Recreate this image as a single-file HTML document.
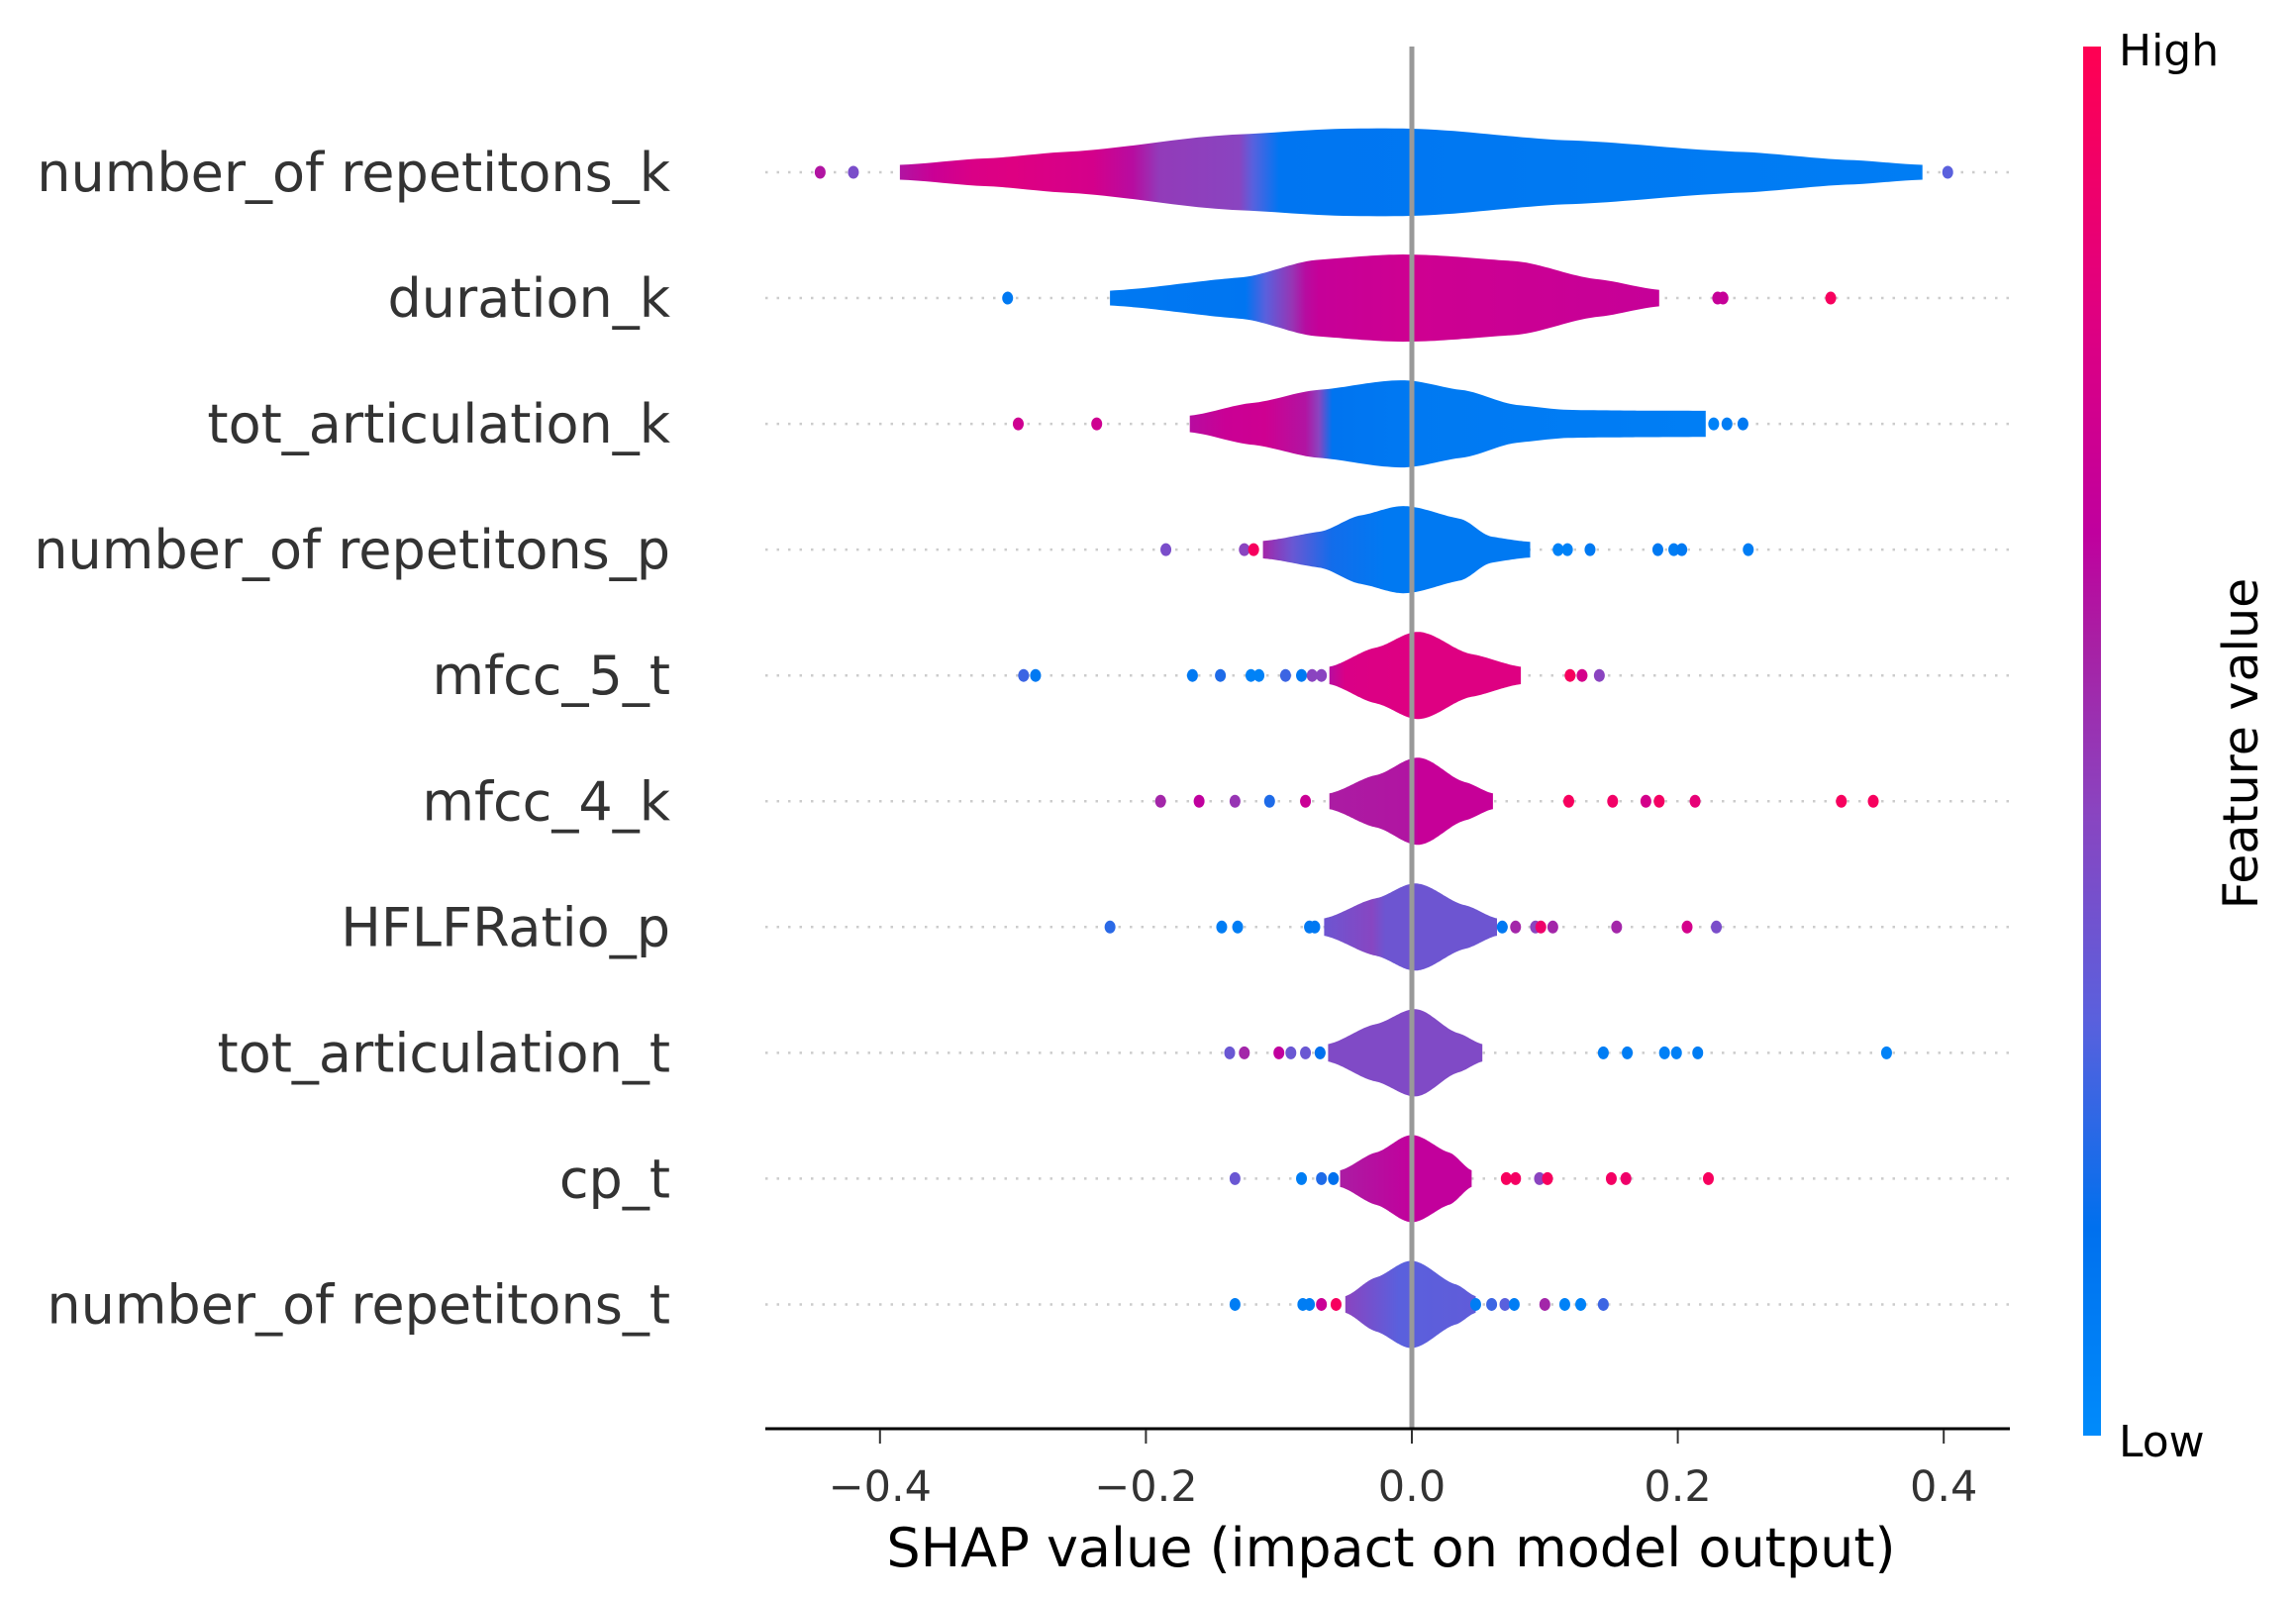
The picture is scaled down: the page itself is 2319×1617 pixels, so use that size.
<!DOCTYPE html>
<html><head><meta charset="utf-8"><style>
html,body{margin:0;padding:0;background:#fff}
svg{display:block}
text{font-family:"DejaVu Sans","Liberation Sans",sans-serif}
</style></head><body>
<svg id="chart" width="2319" height="1617" viewBox="0 0 2319 1617" xmlns="http://www.w3.org/2000/svg">
<defs>
<linearGradient id="cbar" x1="0" y1="1" x2="0" y2="0">
<stop offset="0" stop-color="#008bfb"/><stop offset="0.15" stop-color="#0070ee"/><stop offset="0.3" stop-color="#5a60dd"/><stop offset="0.45" stop-color="#8a44c0"/><stop offset="0.57" stop-color="#a820a4"/><stop offset="0.65" stop-color="#c0009e"/><stop offset="0.82" stop-color="#e2007e"/><stop offset="1" stop-color="#ff0052"/>
</linearGradient>
</defs>
<g id="grid"></g><g id="violins"></g><g id="dots"></g><g id="labels"></g><g id="axis"></g>
<rect x="2104" y="47" width="18" height="1403" fill="url(#cbar)"/>
<text x="2140" y="66" font-size="44" fill="#000">High</text>
<text x="2140" y="1471" font-size="44" fill="#000">Low</text>
<text x="0" y="0" font-size="49" fill="#000" text-anchor="middle" transform="translate(2280,751) rotate(-90)">Feature value</text>
<text x="1405" y="1582" font-size="54" fill="#000" text-anchor="middle">SHAP value (impact on model output)</text>
</svg>
<script>
const features = ["number_of repetitons_k","duration_k","tot_articulation_k","number_of repetitons_p","mfcc_5_t","mfcc_4_k","HFLFRatio_p","tot_articulation_t","cp_t","number_of repetitons_t"];
const xTicks = [-0.4,-0.2,0.0,0.2,0.4];
const xTickLabels = ["\u22120.4","\u22120.2","0.0","0.2","0.4"];
const violinX = [
 [-0.385,-0.32,-0.26,-0.13,-0.05,0.0,0.12,0.246,0.33,0.384],
 [-0.227,-0.13,-0.07,-0.005,0.076,0.14,0.186],
 [-0.167,-0.12,-0.07,-0.007,0.037,0.08,0.12,0.221],
 [-0.112,-0.07,-0.038,-0.006,0.036,0.06,0.089],
 [-0.062,-0.027,0.005,0.045,0.082],
 [-0.062,-0.027,0.005,0.04,0.061],
 [-0.066,-0.027,0.003,0.04,0.064],
 [-0.063,-0.027,0.003,0.035,0.053],
 [-0.054,-0.027,0.0,0.028,0.045],
 [-0.05,-0.027,0.0,0.033,0.048]
];
const violinW = [
 [0.17,0.32,0.47,0.87,1.0,1.0,0.73,0.47,0.28,0.17],
 [0.17,0.47,0.88,1.0,0.85,0.43,0.19],
 [0.19,0.48,0.78,1.0,0.78,0.43,0.32,0.3],
 [0.2,0.41,0.79,1.0,0.71,0.3,0.18],
 [0.2,0.64,1.0,0.49,0.2],
 [0.18,0.6,1.0,0.44,0.18],
 [0.2,0.66,1.0,0.5,0.2],
 [0.2,0.66,1.0,0.45,0.2],
 [0.19,0.6,1.0,0.6,0.19],
 [0.19,0.62,1.0,0.46,0.19]
];
const colorX = [
 [-0.385,-0.36,-0.33,-0.3,-0.24,-0.21,-0.19,-0.13,-0.12,-0.1,0.1,0.384],
 [-0.227,-0.125,-0.11,-0.09,-0.08,-0.07,0.0,0.186],
 [-0.167,-0.14,-0.11,-0.08,-0.07,-0.06,0.0,0.221],
 [-0.112,-0.09,-0.06,-0.02,0.089],
 [-0.062,-0.05,0.0,0.082],
 [-0.062,0.0,0.005,0.061],
 [-0.066,-0.03,-0.02,0.064],
 [-0.063,0.053],
 [-0.054,0.0,0.045],
 [-0.05,-0.01,0.048]
];
const colorV = [
 [0.6,0.7,0.78,0.8,0.75,0.62,0.48,0.45,0.3,0.12,0.1,0.08],
 [0.1,0.12,0.3,0.5,0.62,0.68,0.72,0.68],
 [0.62,0.7,0.72,0.6,0.45,0.13,0.1,0.07],
 [0.55,0.35,0.18,0.1,0.1],
 [0.62,0.78,0.8,0.8],
 [0.58,0.6,0.68,0.68],
 [0.36,0.44,0.36,0.36],
 [0.42,0.42],
 [0.58,0.66,0.66],
 [0.45,0.3,0.32]
];
const dotX = [
 [-0.445,-0.42,0.403],
 [-0.304,0.23,0.234,0.315],
 [-0.296,-0.237,0.227,0.237,0.249],
 [-0.185,-0.126,-0.119,0.110,0.117,0.134,0.185,0.197,0.203,0.253],
 [-0.292,-0.283,-0.165,-0.144,-0.121,-0.115,-0.095,-0.083,-0.075,-0.068,0.119,0.128,0.141],
 [-0.189,-0.160,-0.133,-0.107,-0.080,0.118,0.151,0.176,0.186,0.213,0.323,0.347],
 [-0.227,-0.143,-0.131,-0.077,-0.073,0.068,0.078,0.093,0.097,0.106,0.154,0.207,0.229],
 [-0.137,-0.126,-0.100,-0.091,-0.080,-0.069,0.144,0.162,0.190,0.199,0.215,0.357],
 [-0.133,-0.083,-0.068,-0.059,0.071,0.078,0.096,0.102,0.150,0.161,0.223],
 [-0.133,-0.082,-0.077,-0.068,-0.057,0.048,0.060,0.070,0.077,0.100,0.115,0.127,0.144]
];
const dotV = [
 [0.6,0.4,0.3],
 [0.1,0.68,0.68,0.95],
 [0.72,0.72,0.05,0.08,0.1],
 [0.4,0.45,0.95,0.05,0.05,0.1,0.1,0.08,0.1,0.08],
 [0.25,0.1,0.1,0.2,0.05,0.05,0.25,0.1,0.45,0.45,0.95,0.75,0.45],
 [0.55,0.65,0.5,0.2,0.7,0.95,0.92,0.75,0.93,0.85,0.95,0.95],
 [0.22,0.08,0.08,0.1,0.1,0.1,0.55,0.45,0.9,0.55,0.55,0.75,0.4],
 [0.35,0.55,0.65,0.35,0.35,0.15,0.08,0.08,0.06,0.06,0.08,0.05],
 [0.35,0.08,0.2,0.15,0.95,0.93,0.45,0.95,0.93,0.9,0.95],
 [0.08,0.08,0.08,0.7,0.95,0.08,0.25,0.3,0.08,0.55,0.05,0.05,0.25]
];

const NS="http://www.w3.org/2000/svg";
const X0=1426, XS=1343, ROW0=174, ROWH=127.05, HALF=44;
const xs=v=>X0+v*XS, ys=i=>ROW0+i*ROWH;
const cmapStops=[[0,[0,139,251]],[0.15,[0,112,238]],[0.3,[90,96,221]],[0.45,[138,68,192]],[0.57,[168,32,164]],[0.65,[192,0,158]],[0.82,[226,0,126]],[1,[255,0,82]]];
function cmap(t){t=Math.max(0,Math.min(1,t));for(let k=1;k<cmapStops.length;k++){const a=cmapStops[k-1],b=cmapStops[k];if(t<=b[0]){const f=(t-a[0])/(b[0]-a[0]);const c=a[1].map((v,j)=>Math.round(v+(b[1][j]-v)*f));return`rgb(${c.join(',')})`;}}return'rgb(255,0,82)';}
function mk(tag,attrs,parent){const e=document.createElementNS(NS,tag);for(const k in attrs)e.setAttribute(k,attrs[k]);parent.appendChild(e);return e;}
function interp(px,pw,x){let k=1;while(k<px.length-1&&x>px[k])k++;const p0=px[k-1],p1=px[k];const im=k-2<0?0:k-2,ip=k+1>px.length-1?px.length-1:k+1;
 const t=(x-p0)/(p1-p0);const m0=(pw[k]-pw[im])/(px[k]-px[im]||1)*(p1-p0)*0.5;const m1=(pw[ip]-pw[k-1])/(px[ip]-px[k-1]||1)*(p1-p0)*0.5;
 const t2=t*t,t3=t2*t;return (2*t3-3*t2+1)*pw[k-1]+(t3-2*t2+t)*m0+(-2*t3+3*t2)*pw[k]+(t3-t2)*m1;}
const svg=document.getElementById('chart');
const gGrid=document.getElementById('grid'),gV=document.getElementById('violins'),gD=document.getElementById('dots'),gL=document.getElementById('labels'),gA=document.getElementById('axis');
const defs=svg.querySelector('defs');
features.forEach((name,i)=>{
 const y=ys(i);
 const gl=mk('line',{x1:773,x2:2030,y1:y,y2:y,stroke:'#cccccc','stroke-width':2.5,'stroke-dasharray':'2.5 9'},gGrid);
 
 
 const lb=mk('text',{x:677,y:y+19,'font-size':54,fill:'#333333','text-anchor':'end'},gL);
 lb.textContent=name;
 
 
 const px=violinX[i],pw=violinW[i];
 const lo=px[0],hi=px[px.length-1];
 const gr=mk('linearGradient',{id:'vg'+i,gradientUnits:'userSpaceOnUse',x1:xs(lo),x2:xs(hi),y1:0,y2:0},defs);
 colorX[i].forEach((cx,k)=>{mk('stop',{offset:((cx-lo)/(hi-lo)).toFixed(4),'stop-color':cmap(colorV[i][k])},gr);});
 let top=[],bot=[];const N=120;
 for(let s=0;s<=N;s++){const x=lo+(hi-lo)*s/N;const w=Math.max(0,interp(px,pw,x))*HALF;top.push(`${xs(x).toFixed(1)},${(y-w).toFixed(1)}`);bot.unshift(`${xs(x).toFixed(1)},${(y+w).toFixed(1)}`);}
 const vp=mk('path',{d:'M'+top.join('L')+'L'+bot.join('L')+'Z',fill:`url(#vg${i})`},gV);
 
 
 dotX[i].forEach((dx,k)=>{
  const c=mk('ellipse',{cx:xs(dx),cy:y,rx:5.5,ry:6.5,fill:cmap(dotV[i][k])},gD);
  
  
 });
});
const zl=mk('line',{x1:xs(0),x2:xs(0),y1:47,y2:1443,stroke:'#999999','stroke-width':5},gA);


const ax=mk('line',{x1:773,x2:2030,y1:1443,y2:1443,stroke:'#000','stroke-width':3},gA);


xTicks.forEach((t,k)=>{
 const tk=mk('line',{x1:xs(t),x2:xs(t),y1:1444,y2:1458,stroke:'#333','stroke-width':2},gA);
 
 
 const tl=mk('text',{x:xs(t),y:1516,'font-size':43,fill:'#333333','text-anchor':'middle'},gA);
 tl.textContent=xTickLabels[k];
 
 
});
</script>
</body></html>
